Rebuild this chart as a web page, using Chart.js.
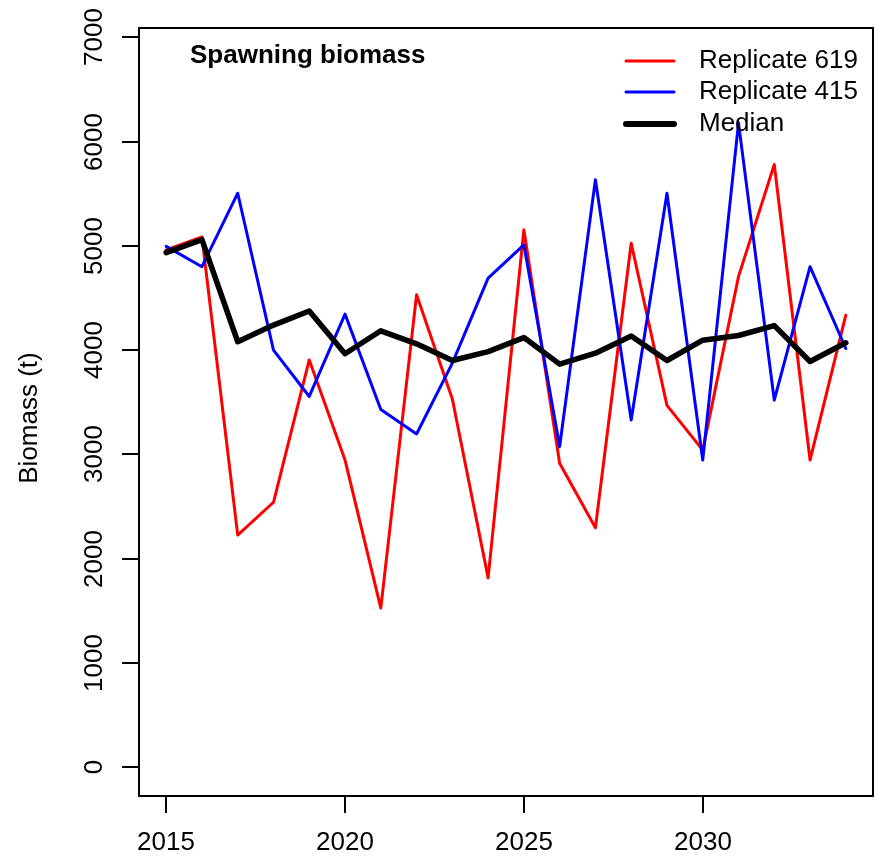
<!DOCTYPE html>
<html lang="en">
	<head>
		<meta charset="UTF-8" />
		<title>Spawning biomass</title>
		<script src="https://cdn.jsdelivr.net/npm/chart.js"></script>
		<style>
			html,
			body {
				margin: 0;
				padding: 0;
				background: #ffffff;
			}

			.chart-c {
				width: 886px;
				height: 861px;
			}
		</style>
	</head>
	<body>
		<div class="chart-c">
			<canvas id="myChart" width="886" height="861"></canvas>
		</div>
		<script>
			// dados
			const anos = [
				2015, 2016, 2017, 2018, 2019, 2020, 2021, 2022, 2023, 2024,
				2025, 2026, 2027, 2028, 2029, 2030, 2031, 2032, 2033, 2034,
			];
			const replicate619 = [
				4960, 5085, 2225, 2540, 3905, 2945, 1525, 4530, 3530, 1815,
				5155, 2915, 2295, 5025, 3470, 3040, 4705, 5780, 2945, 4335,
			];
			const replicate415 = [
				4995, 4800, 5505, 4000, 3555, 4345, 3430, 3195, 3875, 4690,
				5010, 3075, 5635, 3330, 5505, 2945, 6180, 3520, 4800, 4015,
			];
			const mediana = [
				4935, 5060, 4080, 4240, 4375, 3965, 4185, 4060, 3900, 3985,
				4120, 3865, 3970, 4135, 3900, 4095, 4140, 4235, 3890, 4070,
			];
			const ticksAnos = [2015, 2020, 2025, 2030];
			const ticksBiomassa = [0, 1000, 2000, 3000, 4000, 5000, 6000, 7000];
			const nomesSeries = ["Replicate 619", "Replicate 415", "Median"];

			const fonte = '"Liberation Sans", Arial, sans-serif';

			const pontos = (valores) =>
				valores.map((v, i) => ({ x: anos[i], y: v }));

			// eixos no estilo do R, desenhados a partir das escalas
			const eixosR = {
				id: "eixosR",
				afterDraw(chart) {
					const ctx = chart.ctx;
					const area = chart.chartArea;
					const sx = chart.scales.x;
					const sy = chart.scales.y;
					ctx.save();
					ctx.strokeStyle = "#000";
					ctx.fillStyle = "#000";
					ctx.lineWidth = 2;
					ctx.strokeRect(
						area.left,
						area.top,
						area.right - area.left,
						area.bottom - area.top
					);

					ctx.font = "26px " + fonte;
					ctx.textAlign = "center";
					ctx.textBaseline = "middle";
					ticksAnos.forEach((t) => {
						const px = Math.round(sx.getPixelForValue(t));
						ctx.beginPath();
						ctx.moveTo(px, area.bottom);
						ctx.lineTo(px, area.bottom + 17);
						ctx.stroke();
						ctx.fillText(String(t), px, 843);
					});

					ticksBiomassa.forEach((t) => {
						const py = Math.round(sy.getPixelForValue(t));
						ctx.beginPath();
						ctx.moveTo(area.left - 17, py);
						ctx.lineTo(area.left, py);
						ctx.stroke();
						ctx.save();
						ctx.translate(95, py);
						ctx.rotate(-Math.PI / 2);
						ctx.fillText(String(t), 0, 0);
						ctx.restore();
					});

					ctx.save();
					ctx.translate(30, (area.top + area.bottom) / 2 + 6);
					ctx.rotate(-Math.PI / 2);
					ctx.fillText("Biomass (t)", 0, 0);
					ctx.restore();

					// titulo dentro do grafico
					ctx.font = "bold 26px " + fonte;
					ctx.textAlign = "left";
					ctx.fillText("Spawning biomass", 190, 56);

					// legenda
					const cores = ["#ff0000", "#0000ff", "#000000"];
					const larguras = [3, 3, 6];
					const linhasY = [61, 92, 124];
					ctx.font = "26px " + fonte;
					ctx.lineCap = "round";
					nomesSeries.forEach((nome, i) => {
						ctx.strokeStyle = cores[i];
						ctx.lineWidth = larguras[i];
						ctx.beginPath();
						ctx.moveTo(626, linhasY[i]);
						ctx.lineTo(674, linhasY[i]);
						ctx.stroke();
						ctx.fillText(nome, 699, linhasY[i]);
					});
					ctx.restore();
				},
			};

			const ctx1 = document.getElementById("myChart").getContext("2d");
			new Chart(ctx1, {
				type: "line",
				data: {
					datasets: [
						{
							label: nomesSeries[0],
							data: pontos(replicate619),
							borderColor: "#ff0000",
							borderWidth: 3,
							order: 3,
						},
						{
							label: nomesSeries[1],
							data: pontos(replicate415),
							borderColor: "#0000ff",
							borderWidth: 3,
							order: 2,
						},
						{
							label: nomesSeries[2],
							data: pontos(mediana),
							borderColor: "#000000",
							borderWidth: 5.5,
							order: 1,
						},
					],
				},
				options: {
					responsive: false,
					animation: false,
					events: [],
					layout: {
						padding: { left: 139, top: 28, right: 13, bottom: 65 },
					},
					elements: {
						point: { radius: 0 },
						line: {
							tension: 0,
							fill: false,
							borderCapStyle: "round",
							borderJoinStyle: "round",
						},
					},
					scales: {
						x: {
							type: "linear",
							min: 2014.24,
							max: 2034.76,
							display: false,
						},
						y: {
							type: "linear",
							min: -278,
							max: 7090,
							display: false,
						},
					},
					plugins: {
						legend: { display: false },
						tooltip: { enabled: false },
					},
				},
				plugins: [eixosR],
			});
		</script>
	</body>
</html>
